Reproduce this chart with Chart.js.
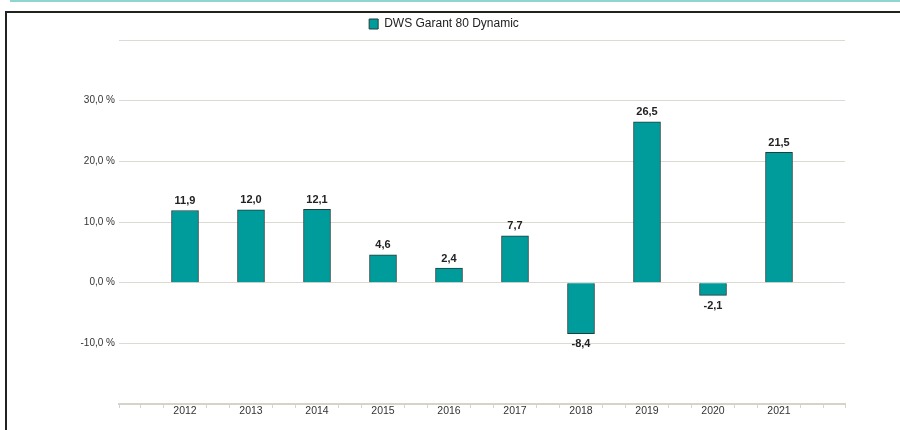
<!DOCTYPE html>
<html><head><meta charset="utf-8">
<script src="https://cdn.jsdelivr.net/npm/chart.js@4"></script>
<style>
html,body{margin:0;padding:0;background:#fff;width:900px;height:430px;overflow:hidden;position:relative;}
#teal{position:absolute;left:10px;top:0;width:890px;height:2px;background:#8fd6d2;}
#frame{position:absolute;left:5px;top:11px;width:900px;height:430px;border-left:2px solid #222;border-top:2px solid #222;}
#wrap{position:absolute;left:0;top:0;width:900px;height:430px;}
</style></head><body>
<div id="teal"></div>
<div id="frame"></div>
<div id="wrap"><canvas id="c" width="900" height="430"></canvas></div>
<script>
const seriesName = 'DWS Garant 80 Dynamic';
const years = [2012, 2013, 2014, 2015, 2016, 2017, 2018, 2019, 2020, 2021];
const values = [11.9, 12.0, 12.1, 4.6, 2.4, 7.7, -8.4, 26.5, -2.1, 21.5];
const yLabelValues = [-10, 0, 10, 20, 30];
const xMin = 2011, xMax = 2022;
const yMin = -20, yMax = 40, yStep = 10;

const FONT = "'Liberation Sans', Arial, sans-serif";
const fmt = v => v.toFixed(1).replace('.', ',');

const dataLabels = {
  id: 'dataLabels',
  afterDatasetsDraw(chart) {
    const ctx = chart.ctx;
    const meta = chart.getDatasetMeta(0);
    ctx.save();
    ctx.font = 'bold 11px ' + FONT;
    ctx.fillStyle = '#222';
    ctx.textAlign = 'center';
    meta.data.forEach((el, i) => {
      const v = values[i];
      if (v >= 0) {
        ctx.textBaseline = 'bottom';
        ctx.fillText(fmt(v), el.x, el.y - 4);
      } else {
        ctx.textBaseline = 'top';
        ctx.fillText(fmt(v), el.x, el.y + 5);
      }
    });
    ctx.restore();
  }
};

new Chart(document.getElementById('c'), {
  type: 'bar',
  data: {
    datasets: [{
      label: seriesName,
      data: years.map((y, i) => ({x: y, y: values[i]})),
      backgroundColor: '#009b9b',
      borderColor: '#1f3f3e',
      borderWidth: 1,
      barThickness: 27
    }]
  },
  options: {
    responsive: false,
    animation: false,
    layout: {padding: {left: 43, right: 55, top: 10, bottom: 0}},
    plugins: {
      legend: {
        display: true,
        position: 'top',
        labels: {
          boxWidth: 9, boxHeight: 10, padding: 8,
          color: '#222',
          font: {family: FONT, size: 12}
        }
      },
      tooltip: {enabled: false}
    },
    scales: {
      x: {
        type: 'linear',
        offset: false,
        min: xMin, max: xMax,
        afterBuildTicks: s => {
          const t = [];
          for (let i = 0; i <= (xMax - xMin) * 3; i++) t.push({value: xMin + i / 3});
          s.ticks = t;
        },
        afterFit: s => { s.height = 26; },
        ticks: {
          autoSkip: false, maxRotation: 0, padding: -3,
          color: '#333',
          font: {family: FONT, size: 10.5},
          callback: v => {
            const r = Math.round(v);
            return (Math.abs(v - r) < 1e-6 && years.includes(r)) ? String(r) : '';
          }
        },
        grid: {
          offset: false,
          drawOnChartArea: false, drawTicks: true, tickLength: 4, tickWidth: 1,
          tickColor: c => (c.tick && c.tick.label) ? 'rgba(0,0,0,0)' : '#d6d3c8'
        },
        border: {display: true, color: '#d6d3c8', width: 2}
      },
      y: {
        min: yMin, max: yMax,
        afterFit: s => { s.width = 76; },
        ticks: {
          stepSize: yStep, padding: 4,
          color: '#333',
          font: {family: FONT, size: 10},
          callback: v => yLabelValues.includes(v) ? fmt(v) + ' %' : ''
        },
        grid: {color: '#dcdbd3', lineWidth: 1, drawTicks: false},
        border: {display: false}
      }
    }
  },
  plugins: [dataLabels]
});
</script>
</body></html>
